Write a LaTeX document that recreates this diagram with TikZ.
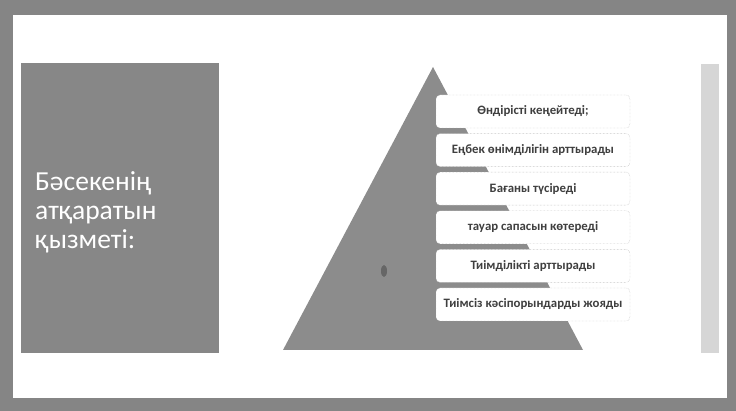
\documentclass[tikz,border=0pt]{standalone}
\usepackage{fontspec}
\setmainfont{Carlito}
\usepackage{tikz}
\usetikzlibrary{positioning}
\definecolor{cramka}{HTML}{858585}
\definecolor{csur}{HTML}{878787}
\definecolor{cpir}{HTML}{8C8C8C}
\definecolor{cjolaq}{HTML}{D6D6D6}
\definecolor{cjiek}{HTML}{ABABAB}
\definecolor{cmatin}{HTML}{3F3F3F}
\tikzset{
  qorap/.style={rectangle, rounded corners=4pt, draw=cjiek, densely dotted, fill=white,
    minimum width=194pt, minimum height=33pt, inner sep=0pt, align=center,
    font=\fontsize{12.8}{14}\selectfont\bfseries, text=cmatin},
  taqyryp/.style={align=left, text=white, font=\fontsize{27.5}{29}\selectfont, inner sep=0pt},
}

\begin{document}
\begin{tikzpicture}[x=1pt, y=-1pt, node distance=5.2pt]
  \useasboundingbox (0,0) rectangle (736,411);
  \fill[cramka] (0,0) rectangle (736,411);
  \fill[white] (13,15) rectangle (727,398);
  \fill[csur] (21,63) rectangle (219,353);
  \fill[cjolaq] (701,64) rectangle (719,353);
  \fill[cpir] (433,67) -- (583,350) -- (283,350) -- cycle;
  \fill[black!60] (384,271) ellipse (3pt and 6pt);
  \node[taqyryp, anchor=west] (atau) at (35,212) {Бәсекенің\\атқаратын\\қызметі:};
  \node[qorap] (a) at (533,111.5) {Өндірісті кеңейтеді;};
  \node[qorap, below=of a] (b) {Еңбек өнімділігін арттырады};
  \node[qorap, below=of b] (c) {Бағаны түсіреді};
  \node[qorap, below=of c] (d) {тауар сапасын көтереді};
  \node[qorap, below=of d] (e) {Тиімділікті арттырады};
  \node[qorap, below=of e] (f) {Тиімсіз кәсіпорындарды жояды};
\end{tikzpicture}
\end{document}
